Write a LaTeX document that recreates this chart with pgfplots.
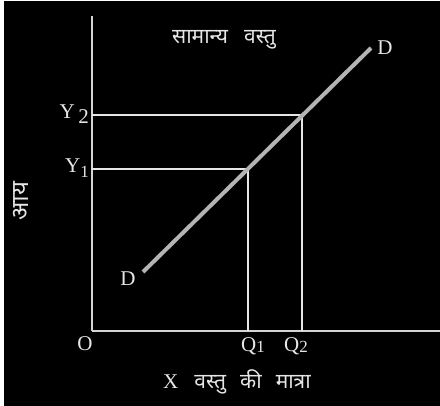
\documentclass[border=0pt]{standalone}
\usepackage{fontspec}
\setmainfont{Liberation Serif}
\newfontfamily\dev[Script=Devanagari]{Noto Sans}
\usepackage{pgfplots}
\pgfplotsset{compat=1.18}
\definecolor{ink}{HTML}{E6E6E6}
\definecolor{axisgray}{HTML}{D4D4D4}
\definecolor{curvegray}{HTML}{B4B4B4}
\begin{document}
\begin{tikzpicture}
\fill[black] (0,0) rectangle (440pt,406pt);
\fill[white] (0,0) rectangle (4pt,406pt);
\fill[white] (0,405pt) rectangle (440pt,406pt);
\begin{axis}[
  at={(92pt,75pt)}, anchor=south west,
  scale only axis, width=348pt, height=315pt,
  xmin=0, xmax=348, ymin=0, ymax=315,
  enlargelimits=false, clip=false,
  axis x line=bottom, axis y line=left,
  axis line style={-, draw=axisgray, line width=1.8pt},
  xtick=\empty, ytick=\empty,
]
\addplot[draw=ink, line width=1.3pt] coordinates {(0,162) (156,162) (156,0)};
\addplot[draw=ink, line width=1.3pt] coordinates {(0,216) (210,216) (210,0)};
\addplot[draw=curvegray, line width=4pt] coordinates {(51,59) (279,283)};
\begin{scope}[every node/.style={text=ink, font=\fontsize{21}{24}\selectfont, inner sep=0pt}]
\node[anchor=east] at (axis cs:-3,217) {Y\,\raisebox{-5pt}{2}};
\node[anchor=east] at (axis cs:-3,163) {Y\raisebox{-5pt}{\fontsize{17}{19}\selectfont 1}};
\node at (axis cs:-7,-13) {O};
\node at (axis cs:161,-15) {Q\raisebox{-1pt}{\fontsize{17}{19}\selectfont 1}};
\node at (axis cs:204,-15) {Q\raisebox{-1pt}{\fontsize{17}{19}\selectfont 2}};
\node at (axis cs:36,52) {D};
\node at (axis cs:293,283) {D};
\node at (axis cs:145,-51) {X\hspace{16pt}{\dev\fontsize{21}{24}\selectfont वस्तु\hspace{14pt}की\hspace{14pt}मात्रा}};
\node at (axis cs:132,291) {\dev\fontsize{21}{24}\selectfont सामान्य\hspace{16pt}वस्तु};
\node[rotate=90] at (axis cs:-71,130) {\dev\fontsize{24}{27}\selectfont आय};
\end{scope}
\end{axis}
\pgfresetboundingbox
\path[use as bounding box] (0,0) rectangle (440pt,406pt);
\end{tikzpicture}
\end{document}
